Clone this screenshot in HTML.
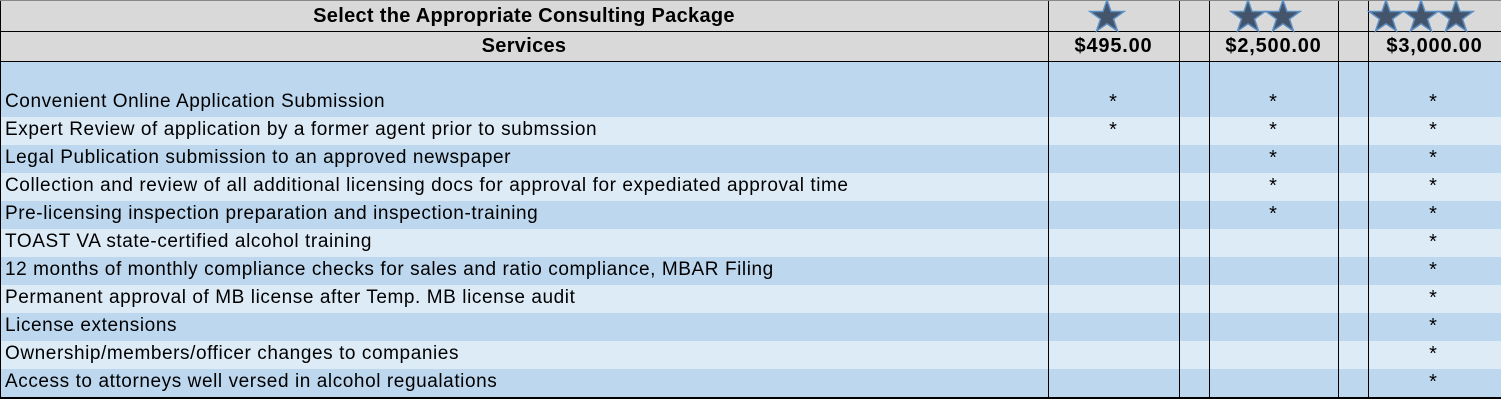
<!DOCTYPE html>
<html><head><meta charset="utf-8"><style>
*{margin:0;padding:0;box-sizing:border-box}
body{width:1501px;height:400px;background:#fff;position:relative;overflow:hidden;font-family:"Liberation Sans",Arial,sans-serif;color:#000}
.r{position:absolute;left:0;width:1501px}
.t{position:absolute;left:5px;font-size:19px;letter-spacing:0.58px;white-space:nowrap;line-height:28px}
.a{position:absolute;width:30px;text-align:center;font-size:20px;line-height:28px}
.v{position:absolute;width:1px;background:#000;top:1px;height:397px}
.h{position:absolute;left:0;width:1501px;height:1px;background:#000}
.b{position:absolute;font-weight:bold;font-size:20px;letter-spacing:0.3px;text-align:center;line-height:30px;white-space:nowrap}
.p{letter-spacing:0.8px}
</style></head><body>
<div class="r" style="top:1px;height:60px;background:#d9d9d9"></div>
<div class="r" style="top:61px;height:56px;background:#bdd7ee"></div>
<div class="r" style="top:117px;height:28px;background:#ddebf7"></div>
<div class="r" style="top:145px;height:28px;background:#bdd7ee"></div>
<div class="r" style="top:173px;height:28px;background:#ddebf7"></div>
<div class="r" style="top:201px;height:28px;background:#bdd7ee"></div>
<div class="r" style="top:229px;height:28px;background:#ddebf7"></div>
<div class="r" style="top:257px;height:28px;background:#bdd7ee"></div>
<div class="r" style="top:285px;height:28px;background:#ddebf7"></div>
<div class="r" style="top:313px;height:28px;background:#bdd7ee"></div>
<div class="r" style="top:341px;height:28px;background:#ddebf7"></div>
<div class="r" style="top:369px;height:28px;background:#bdd7ee"></div>
<div class="h" style="top:0;background:#888"></div>
<div class="h" style="top:31px"></div>
<div class="h" style="top:61px"></div>
<div class="h" style="top:397px;height:2px"></div>
<div class="v" style="left:0"></div>
<div class="v" style="left:1048px"></div>
<div class="v" style="left:1179px"></div>
<div class="v" style="left:1209px"></div>
<div class="v" style="left:1338px"></div>
<div class="v" style="left:1368px"></div>
<div class="b" style="left:0;width:1048px;top:1px">Select the Appropriate Consulting Package</div>
<div class="b" style="left:0;width:1048px;top:31px">Services</div>
<div class="b p" style="left:1048px;width:131px;top:31px">$495.00</div>
<div class="b p" style="left:1209px;width:129px;top:31px">$2,500.00</div>
<div class="b p" style="left:1368px;width:133px;top:31px">$3,000.00</div>
<svg style="position:absolute;left:0;top:0" width="1501" height="40">
<defs><polygon id="s" points="0,-17 4,-5.5 17,-5.5 6.5,2 10.5,14 0,6.8 -10.5,14 -6.5,2 -17,-5.5 -4,-5.5" fill="#44546a" stroke="#5b8fc4" stroke-width="1.5"/></defs>
<use href="#s" x="1107" y="17"/>
<use href="#s" x="1248" y="17"/><use href="#s" x="1283" y="17"/>
<use href="#s" x="1386" y="17"/><use href="#s" x="1421" y="17"/><use href="#s" x="1456" y="17"/>
</svg>
<div class="t" style="top:88px">Convenient Online Application Submission</div>
<div class="t" style="top:116px">Expert Review of application by a former agent prior to submssion</div>
<div class="t" style="top:144px">Legal Publication submission to an approved newspaper</div>
<div class="t" style="top:172px">Collection and review of all additional licensing docs for approval for expediated approval time</div>
<div class="t" style="top:200px">Pre-licensing inspection preparation and inspection-training</div>
<div class="t" style="top:228px">TOAST VA state-certified alcohol training</div>
<div class="t" style="top:256px">12 months of monthly compliance checks for sales and ratio compliance, MBAR Filing</div>
<div class="t" style="top:284px">Permanent approval of MB license after Temp. MB license audit</div>
<div class="t" style="top:312px">License extensions</div>
<div class="t" style="top:340px">Ownership/members/officer changes to companies</div>
<div class="t" style="top:368px">Access to attorneys well versed in alcohol regualations</div>
<div class="a" style="left:1098px;top:88px">*</div>
<div class="a" style="left:1098px;top:116px">*</div>
<div class="a" style="left:1258px;top:88px">*</div>
<div class="a" style="left:1258px;top:116px">*</div>
<div class="a" style="left:1258px;top:144px">*</div>
<div class="a" style="left:1258px;top:172px">*</div>
<div class="a" style="left:1258px;top:200px">*</div>
<div class="a" style="left:1418px;top:88px">*</div>
<div class="a" style="left:1418px;top:116px">*</div>
<div class="a" style="left:1418px;top:144px">*</div>
<div class="a" style="left:1418px;top:172px">*</div>
<div class="a" style="left:1418px;top:200px">*</div>
<div class="a" style="left:1418px;top:228px">*</div>
<div class="a" style="left:1418px;top:256px">*</div>
<div class="a" style="left:1418px;top:284px">*</div>
<div class="a" style="left:1418px;top:312px">*</div>
<div class="a" style="left:1418px;top:340px">*</div>
<div class="a" style="left:1418px;top:368px">*</div>
</body></html>
